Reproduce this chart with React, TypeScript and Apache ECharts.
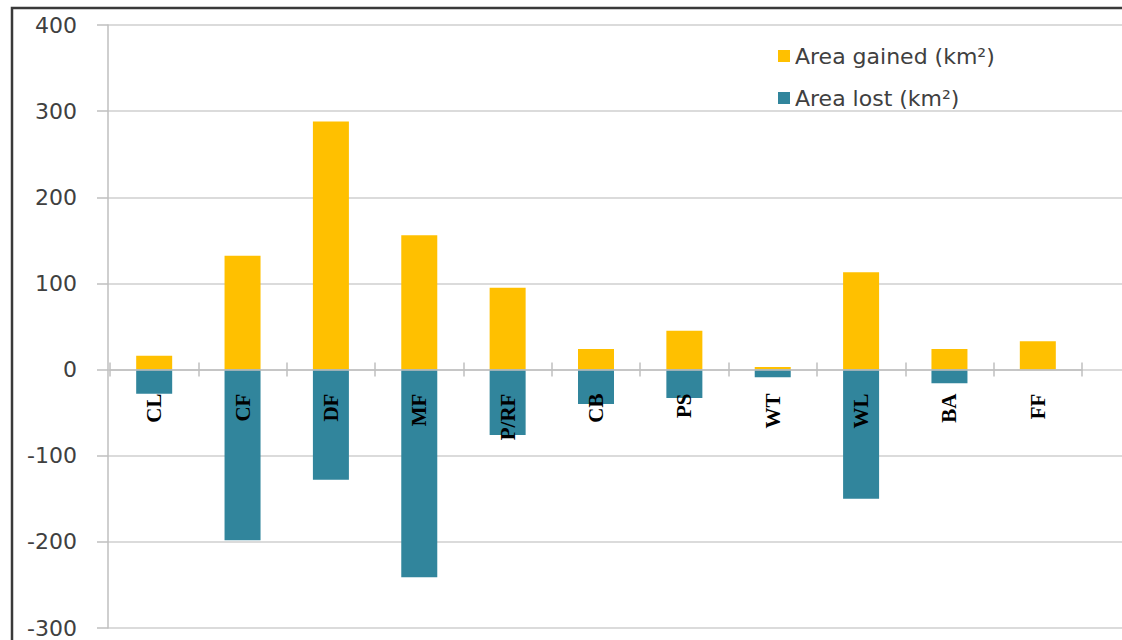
import React, { useEffect, useRef } from "react";
import * as echarts from "echarts";

const categories = ["CL", "CF", "DF", "MF", "P/RF", "CB", "PS", "WT", "WL", "BA", "FF"];
const areaGained = [16, 132, 288, 156, 95, 24, 45, 3, 113, 24, 33];
const areaLost = [-28, -198, -128, -241, -76, -40, -33, -9, -150, -16, 0];
const seriesNames = ["Area gained (km²)", "Area lost (km²)"];
const yMin = -300;
const yMax = 400;
const yStep = 100;

export default function App() {
  const ref = useRef<HTMLDivElement>(null);
  useEffect(() => {
    if (!ref.current) return;
    const chart = echarts.init(ref.current, null, { renderer: "svg" });
    const grayLine = "#bfbfbf";
    const gridTop = 25;
    const fullHeight = 603;
    const zeroOffset = (fullHeight * yMax) / (yMax - yMin);
    chart.setOption({
      animation: false,
      backgroundColor: "#ffffff",
      grid: [
        { left: 108, right: 0, top: gridTop, height: fullHeight, outerBoundsMode: "none", containLabel: false },
        { left: 110, width: 972, top: gridTop, height: zeroOffset, outerBoundsMode: "none", containLabel: false },
      ],
      legend: {
        orient: "vertical",
        left: 773,
        top: 40,
        itemWidth: 12,
        itemHeight: 12,
        itemGap: 20,
        icon: "rect",
        data: seriesNames,
        textStyle: { fontSize: 22, color: "#404040", fontFamily: "DejaVu Sans" },
      },
      xAxis: [
        { type: "value", gridIndex: 0, min: 0, max: 1, show: false },
        {
          type: "category",
          gridIndex: 1,
          position: "bottom",
          z: 10,
          data: categories,
          axisLine: { onZero: false, lineStyle: { color: grayLine, width: 1.5 } },
          axisTick: { show: true, length: 7, lineStyle: { color: grayLine, width: 1.5 } },
          axisLabel: {
            rotate: 90,
            margin: 24,
            fontFamily: "Liberation Serif",
            fontWeight: "bold",
            fontSize: 21,
            color: "#000",
          },
        },
        {
          type: "category",
          gridIndex: 1,
          position: "bottom",
          data: categories,
          axisLine: { show: false, onZero: false },
          axisTick: { show: true, inside: true, length: 7, lineStyle: { color: grayLine, width: 1.5 } },
          axisLabel: { show: false },
        },
      ],
      yAxis: [
        {
          type: "value",
          gridIndex: 0,
          min: yMin,
          max: yMax,
          interval: yStep,
          axisLine: { show: true, lineStyle: { color: grayLine, width: 1.5 } },
          axisTick: { show: true, length: 11, lineStyle: { color: grayLine, width: 1.5 } },
          splitLine: { show: true, lineStyle: { color: "#cfcfcf", width: 1.5 } },
          axisLabel: { fontSize: 22, margin: 31, color: "#404040", fontFamily: "DejaVu Sans" },
        },
        { type: "value", gridIndex: 1, min: 0, max: yMax, interval: yStep, show: false },
      ],
      series: [
        {
          name: seriesNames[0],
          type: "bar",
          xAxisIndex: 1,
          yAxisIndex: 1,
          data: areaGained,
          barWidth: 36,
          barGap: "-100%",
          clip: false,
          itemStyle: { color: "#FFC000" },
        },
        {
          name: seriesNames[1],
          type: "bar",
          xAxisIndex: 1,
          yAxisIndex: 1,
          data: areaLost,
          barWidth: 36,
          barGap: "-100%",
          clip: false,
          itemStyle: { color: "#31859C" },
        },
      ],
      graphic: [
        {
          type: "polyline",
          shape: { points: [[12, 640], [12, 8], [1122, 8]] },
          style: { stroke: "#3a3a3a", lineWidth: 2.5, fill: "none" },
          z: 100,
        },
      ],
    });
    return () => chart.dispose();
  }, []);
  return (
    <div
      ref={ref}
      style={{ position: "absolute", left: 0, top: 0, width: 1122, height: 640 }}
    />
  );
}
